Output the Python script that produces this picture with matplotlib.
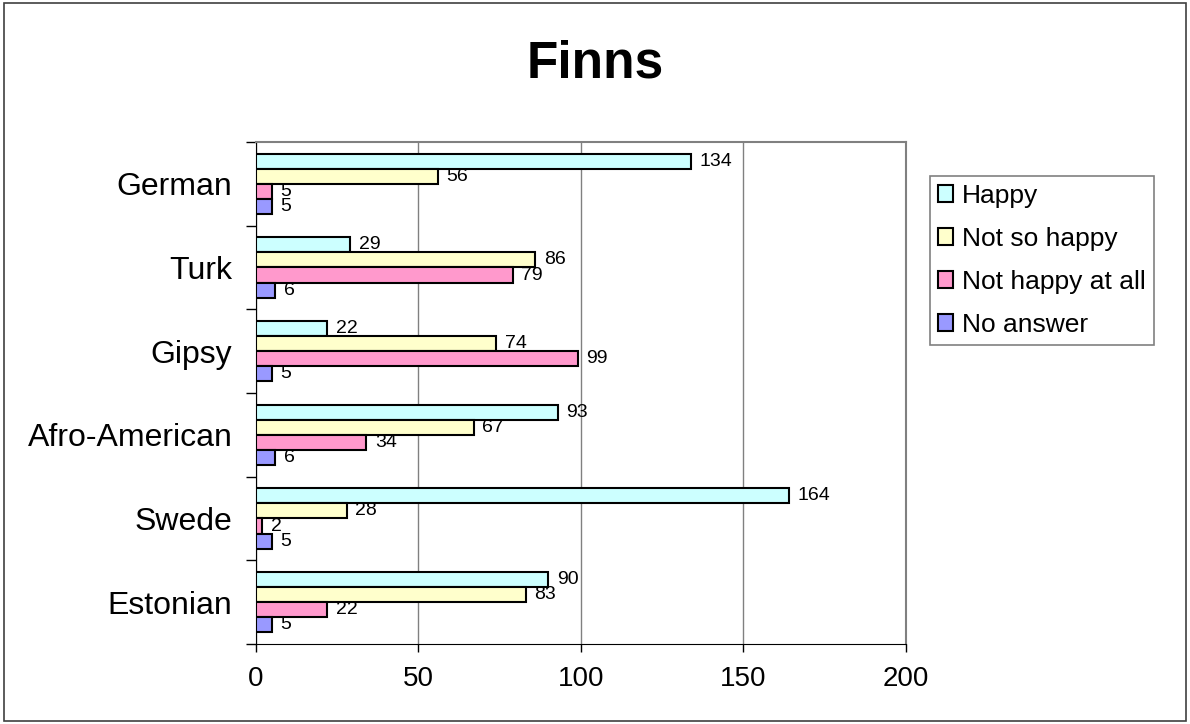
import matplotlib
matplotlib.use("Agg")
import matplotlib.pyplot as plt
import numpy as np
from matplotlib.patches import Rectangle

plt.rcParams['font.family'] = ['Liberation Sans', 'DejaVu Sans']

# data, bottom to top as drawn
groups = ["Estonian", "Swede", "Afro-American", "Gipsy", "Turk", "German"]
series = ["Happy", "Not so happy", "Not happy at all", "No answer"]
happy = [90, 164, 93, 22, 29, 134]
not_so_happy = [83, 28, 67, 74, 86, 56]
not_happy_at_all = [22, 2, 34, 99, 79, 5]
no_answer = [5, 5, 6, 5, 6, 5]
values = [happy, not_so_happy, not_happy_at_all, no_answer]
colors = ["#CCFFFF", "#FFFFCC", "#FF99CC", "#9999FF"]

fig = plt.figure(figsize=(11.9, 7.24), dpi=100)
ax = fig.add_axes([0.2151, 0.1105, 0.5462, 0.6934])

y = np.arange(len(groups))
h = 0.18
for i in range(len(series)):
    off = (1.5 - i) * h
    bars = ax.barh(y + off, values[i], height=h, color=colors[i],
                   edgecolor="black", linewidth=1.5, label=series[i], zorder=3)
    ax.bar_label(bars, padding=6, fontsize=14)

ax.set_xlim(0, 200)
ax.set_ylim(-0.5, 5.5)
ax.set_xticks(np.arange(0, 201, 50))
ax.tick_params(axis='x', labelsize=20, length=6, width=1, pad=10)
ax.set_yticks(y)
ax.set_yticklabels(groups)
ax.tick_params(axis='y', which='major', length=0, labelsize=23, pad=17)
ax.set_yticks(np.arange(-0.5, 6, 1), minor=True)
ax.tick_params(axis='y', which='minor', length=7, width=1)

ax.grid(axis='x', color="#808080", linewidth=1, zorder=0)
ax.spines['top'].set_color("#808080")
ax.spines['right'].set_color("#808080")
ax.spines['top'].set_linewidth(1.5)
ax.spines['right'].set_linewidth(1.5)

fig.text(0.5, 0.912, "Finns", ha='center', va='center', fontsize=37, fontweight='bold')

leg = fig.legend(loc='upper left', bbox_to_anchor=(0.7815, 0.757), fontsize=19,
                 handlelength=0.57, handleheight=0.57, handletextpad=0.35,
                 labelspacing=0.72, borderpad=0.3, borderaxespad=0,
                 fancybox=False, framealpha=1, edgecolor="#808080")
leg.get_frame().set_linewidth(1.2)

fig.patches.append(Rectangle((0.003, 0.004), 0.994, 0.992, transform=fig.transFigure,
                             fill=False, edgecolor="#404040", linewidth=1.2))

plt.savefig("out.png", dpi=100)
